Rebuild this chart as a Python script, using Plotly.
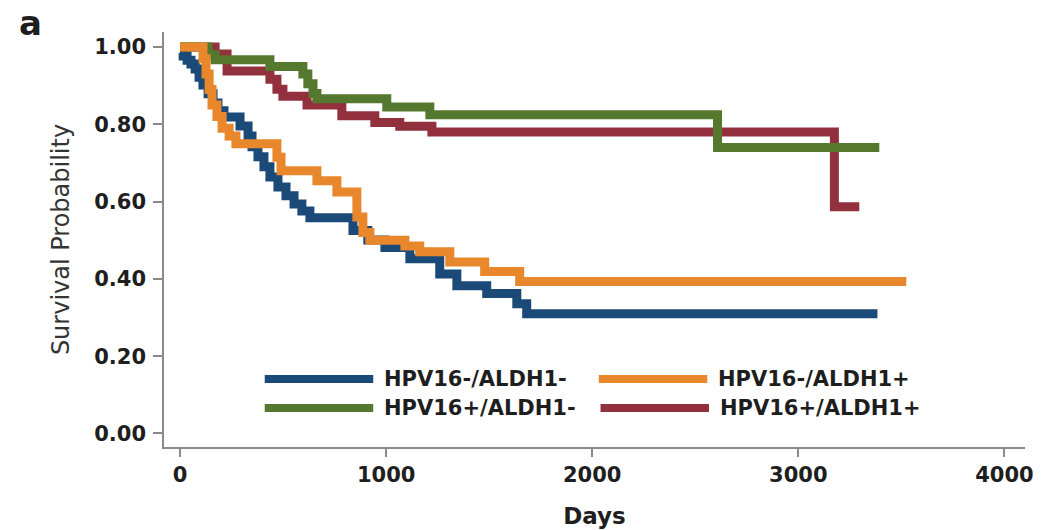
import plotly.graph_objects as go

# Kaplan-Meier step curves: day of each step and survival from that day on
groups = ["HPV16-/ALDH1-", "HPV16-/ALDH1+", "HPV16+/ALDH1-", "HPV16+/ALDH1+"]

days_neg_neg = [0, 15, 34, 53, 73, 92, 111, 136, 160, 184, 213, 291, 330, 349, 378,
                407, 436, 475, 514, 553, 591, 630, 839, 911, 994, 1115, 1260, 1343,
                1488, 1634, 1682, 3384]
surv_neg_neg = [0.985, 0.977, 0.966, 0.956, 0.943, 0.922, 0.902, 0.879, 0.855, 0.835,
                0.819, 0.796, 0.770, 0.742, 0.716, 0.690, 0.664, 0.638, 0.615, 0.594,
                0.576, 0.558, 0.525, 0.501, 0.481, 0.452, 0.413, 0.382, 0.362, 0.336,
                0.310, 0.310]

days_neg_pos = [0, 111, 126, 141, 155, 179, 204, 238, 271, 470, 490, 664, 761, 858,
                887, 921, 1091, 1163, 1309, 1478, 1648, 3524]
surv_neg_pos = [1.0, 0.97, 0.93, 0.89, 0.85, 0.82, 0.79, 0.77, 0.75, 0.715, 0.68,
                0.654, 0.625, 0.56, 0.52, 0.50, 0.485, 0.47, 0.444, 0.419, 0.393, 0.393]

days_pos_neg = [0, 136, 170, 436, 596, 620, 645, 664, 1003, 1212, 2608, 3393]
surv_pos_neg = [1.0, 0.98, 0.967, 0.95, 0.93, 0.905, 0.88, 0.866, 0.845, 0.825, 0.74, 0.74]

days_pos_pos = [0, 170, 228, 436, 470, 499, 616, 785, 945, 1066, 1222, 3175, 3296]
surv_pos_pos = [1.0, 0.982, 0.938, 0.917, 0.891, 0.873, 0.85, 0.822, 0.805, 0.795,
                0.78, 0.587, 0.587]

x_ticks = [0, 1000, 2000, 3000, 4000]
y_ticks = [0.0, 0.2, 0.4, 0.6, 0.8, 1.0]

colors = {
    "HPV16-/ALDH1-": "#1b4a78",
    "HPV16-/ALDH1+": "#e8872b",
    "HPV16+/ALDH1-": "#55782f",
    "HPV16+/ALDH1+": "#93303e",
}
series = {
    "HPV16-/ALDH1-": (days_neg_neg, surv_neg_neg),
    "HPV16-/ALDH1+": (days_neg_pos, surv_neg_pos),
    "HPV16+/ALDH1-": (days_pos_neg, surv_pos_neg),
    "HPV16+/ALDH1+": (days_pos_pos, surv_pos_pos),
}

fig = go.Figure()
# stacking: navy at the bottom, orange on top
for name in ["HPV16-/ALDH1-", "HPV16+/ALDH1+", "HPV16+/ALDH1-", "HPV16-/ALDH1+"]:
    d, s = series[name]
    fig.add_trace(go.Scatter(
        x=d, y=s, mode="lines", name=name, showlegend=False,
        line=dict(shape="hv", color=colors[name], width=9),
        hoverinfo="x+y+name",
    ))

tick_font = dict(family="DejaVu Sans", size=21, color="#1e1e1e", weight="bold")
axis_col = "#8a8a8a"

fig.update_xaxes(
    range=[-78, 4100], tickvals=x_ticks, ticks="outside", ticklen=8, tickwidth=1.5,
    tickcolor=axis_col, showline=True, linecolor=axis_col, linewidth=1.5,
    showgrid=False, zeroline=False, tickfont=tick_font, ticklabelstandoff=0,
    automargin=False,
    title=dict(text="Days", font=dict(family="DejaVu Sans", size=23, color="#1e1e1e",
                                      weight="bold"), standoff=22),
)
fig.update_yaxes(
    range=[-0.035, 1.039], tickvals=y_ticks, tickformat=".2f", ticks="outside",
    ticklen=9, tickwidth=1.5, tickcolor=axis_col, showline=True, linecolor=axis_col,
    linewidth=1.5, showgrid=False, zeroline=False, tickfont=tick_font,
    ticklabelstandoff=3, automargin=False,
    title=dict(text="Survival Probability",
               font=dict(family="DejaVu Sans", size=24, color="#333333"), standoff=18),
)

# two-row key drawn in paper space below the curves
key_rows = [
    ("HPV16-/ALDH1-", 0.117, 0.164),
    ("HPV16-/ALDH1+", 0.505, 0.164),
    ("HPV16+/ALDH1-", 0.117, 0.094),
    ("HPV16+/ALDH1+", 0.507, 0.094),
]
for name, x0, yk in key_rows:
    fig.add_shape(type="line", xref="paper", yref="paper", x0=x0, x1=x0 + 0.126,
                  y0=yk, y1=yk, line=dict(color=colors[name], width=8))
    fig.add_annotation(xref="paper", yref="paper", x=x0 + 0.136, y=yk, text=name,
                       showarrow=False, xanchor="left", yanchor="middle",
                       font=dict(family="DejaVu Sans", size=21, color="#1e1e1e",
                                 weight="bold"))

fig.add_annotation(xref="paper", yref="paper", x=-0.171, y=1.022, text="a",
                   showarrow=False, xanchor="left", yanchor="middle",
                   font=dict(family="DejaVu Sans", size=34, color="#1e1e1e",
                             weight="bold"))

fig.update_layout(
    width=1048, height=530, margin=dict(l=164, r=23, t=32, b=83),
    plot_bgcolor="white", paper_bgcolor="white",
)

fig.write_html("out.html")
